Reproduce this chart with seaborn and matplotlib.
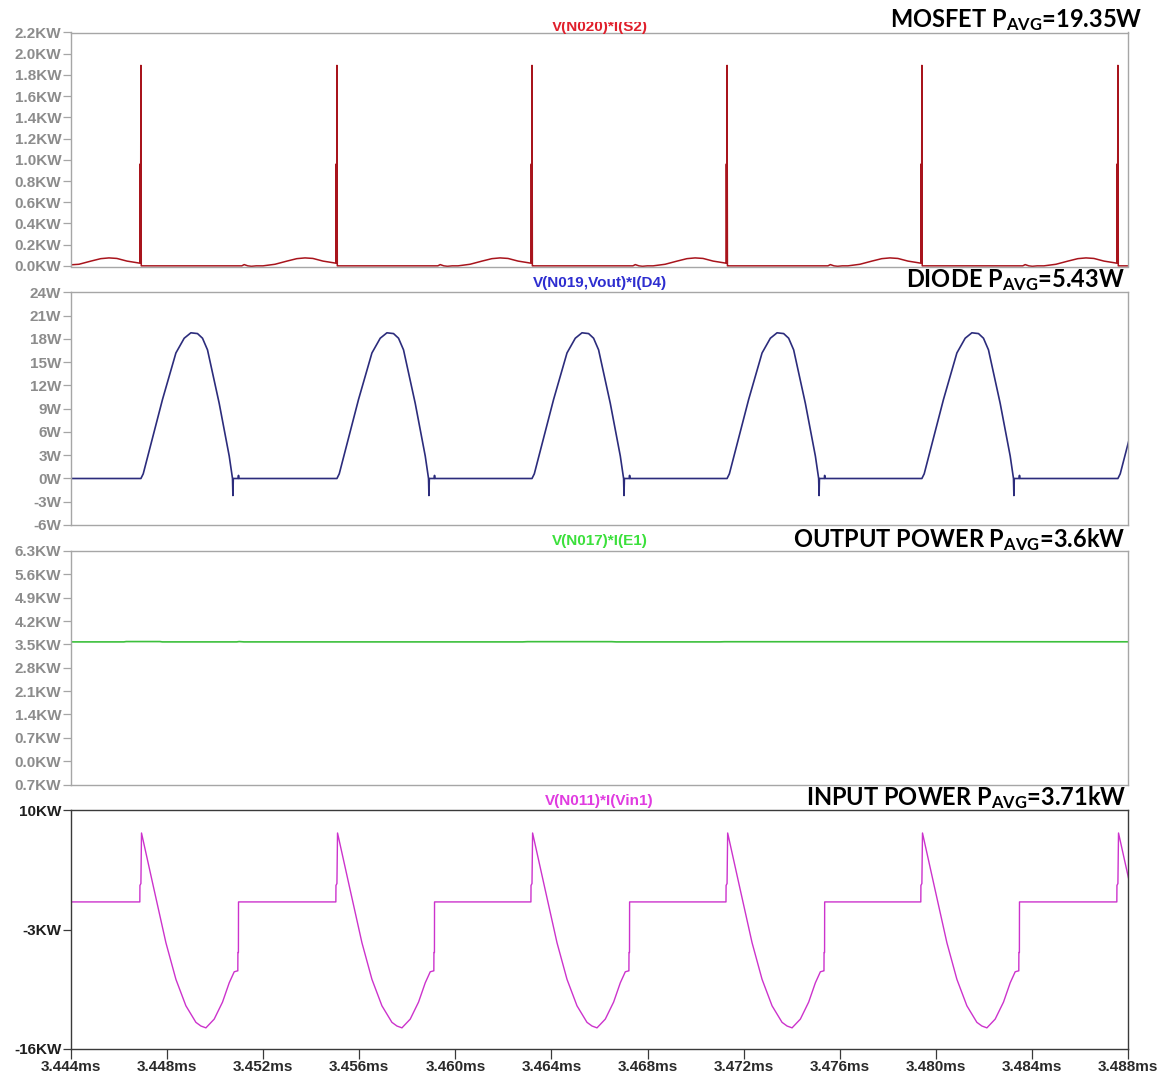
import numpy as np
import pandas as pd
import matplotlib
matplotlib.use("Agg")
import matplotlib.pyplot as plt
from matplotlib.ticker import FixedLocator, FixedFormatter
from matplotlib.patches import Rectangle
import seaborn as sns

# ---------------------------------------------------------------- data
T_START, T_END = 3.444, 3.488

# switching instants (ms) at which each cycle of the waveforms begins
CYCLE_STARTS_MS = [3.44691, 3.45507, 3.46319, 3.47131, 3.47942, 3.48758]

# MOSFET power V(N020)*I(S2): one cycle, offset in us -> KW
MOS_OFFSET_US = [-3.08, -2.58, -2.08, -1.67, -1.33, -1.00, -0.58, -0.17, -0.04,
                 -0.035, -0.025, -0.015, 0.0, 0.015, 0.05,
                 4.20, 4.30, 4.45, 4.60, 4.80]
MOS_KW = [0.0, 0.015, 0.045, 0.068, 0.075, 0.070, 0.045, 0.030, 0.025,
          0.96, 0.96, 0.03, 1.89, 0.0, 0.0,
          0.0, 0.012, 0.0, -0.004, 0.0]
MOS_LEAD_KW = 0.01

# diode power V(N019,Vout)*I(D4): one cycle, offset in us -> W
DIODE_OFFSET_US = [-0.05, 0.0, 0.096, 0.899, 1.457, 1.802, 2.081, 2.356, 2.564,
                   2.772, 3.259, 3.676, 3.813, 3.830, 3.846, 4.050, 4.063, 4.075]
DIODE_W = [0.0, 0.0, 0.6, 10.2, 16.2, 18.1, 18.8, 18.7, 18.1,
           16.6, 9.7, 2.9, 0.0, -2.2, 0.0, 0.0, 0.4, 0.0]
DIODE_LEAD_W = 0.0

# input power V(N011)*I(Vin1): one cycle, offset in us -> KW
IN_OFFSET_US = [-0.045, -0.040, 0.0, 0.025, 0.50, 1.041, 1.457, 1.873, 2.289,
                2.498, 2.706, 3.051, 3.397, 3.676, 3.884, 4.021, 4.034, 4.038,
                4.059, 4.063]
IN_KW = [0.0, 1.8, 2.0, 7.5, 1.9, -4.44, -8.42, -11.3, -13.1,
         -13.5, -13.7, -12.75, -10.9, -8.8, -7.6, -7.5, -7.5, -5.5,
         -5.5, 0.0]
IN_LEAD_KW = 0.0

# output power V(N017)*I(E1): breakpoints (ms -> KW)
OUT_T_MS = [3.4440, 3.4462, 3.4463, 3.4477, 3.4478, 3.4509, 3.4510, 3.4512,
            3.4628, 3.4630, 3.4665, 3.4667, 3.4710, 3.4712, 3.4800, 3.4880]
OUT_KW = [3.575, 3.575, 3.585, 3.585, 3.575, 3.575, 3.585, 3.575,
          3.575, 3.582, 3.582, 3.575, 3.575, 3.580, 3.580, 3.578]

# axis ticks
X_TICKS = [3.444, 3.448, 3.452, 3.456, 3.460, 3.464, 3.468, 3.472, 3.476,
           3.480, 3.484, 3.488]
X_LABELS = ["3.444ms", "3.448ms", "3.452ms", "3.456ms", "3.460ms", "3.464ms",
            "3.468ms", "3.472ms", "3.476ms", "3.480ms", "3.484ms", "3.488ms"]
MOS_TICKS = [0.0, 0.2, 0.4, 0.6, 0.8, 1.0, 1.2, 1.4, 1.6, 1.8, 2.0, 2.2]
MOS_LABELS = ["0.0KW", "0.2KW", "0.4KW", "0.6KW", "0.8KW", "1.0KW", "1.2KW",
              "1.4KW", "1.6KW", "1.8KW", "2.0KW", "2.2KW"]
DIODE_TICKS = [-6, -3, 0, 3, 6, 9, 12, 15, 18, 21, 24]
DIODE_LABELS = ["-6W", "-3W", "0W", "3W", "6W", "9W", "12W", "15W", "18W",
                "21W", "24W"]
OUT_TICKS = [-0.7, 0.0, 0.7, 1.4, 2.1, 2.8, 3.5, 4.2, 4.9, 5.6, 6.3]
OUT_LABELS = ["0.7KW", "0.0KW", "0.7KW", "1.4KW", "2.1KW", "2.8KW", "3.5KW",
              "4.2KW", "4.9KW", "5.6KW", "6.3KW"]
IN_TICKS = [-16, -3, 10]
IN_LABELS = ["-16KW", "-3KW", "10KW"]

TRACE_NAMES = ["V(N020)*I(S2)", "V(N019,Vout)*I(D4)", "V(N017)*I(E1)",
               "V(N011)*I(Vin1)"]
HEADINGS = [("MOSFET ", "19.35W"), ("DIODE ", "5.43W"),
            ("OUTPUT POWER ", "3.6kW"), ("INPUT POWER ", "3.71kW")]


def repeat_cycles(offsets_us, values, lead):
    """Lay one recorded cycle at every switching instant, after the
    level held at the start of the window."""
    t, v = [T_START], [lead]
    for s in CYCLE_STARTS_MS:
        for o, val in zip(offsets_us, values):
            tt = s + o / 1000.0
            if tt > t[-1]:
                t.append(tt)
                v.append(val)
    return pd.DataFrame({"t": t, "p": v})


mos_df = repeat_cycles(MOS_OFFSET_US, MOS_KW, MOS_LEAD_KW)
diode_df = repeat_cycles(DIODE_OFFSET_US, DIODE_W, DIODE_LEAD_W)
in_df = repeat_cycles(IN_OFFSET_US, IN_KW, IN_LEAD_KW)
out_df = pd.DataFrame({"t": OUT_T_MS, "p": OUT_KW})

# ---------------------------------------------------------------- style
sns.set_style("white")
plt.rcParams["font.family"] = ["Liberation Sans", "DejaVu Sans"]
plt.rcParams["font.weight"] = "bold"
plt.rcParams["mathtext.fontset"] = "custom"
plt.rcParams["mathtext.rm"] = "Lato:bold"
plt.rcParams["mathtext.it"] = "Lato:bold"
plt.rcParams["mathtext.bf"] = "Lato:bold"
plt.rcParams["mathtext.sf"] = "Lato:bold"

W, H = 1165, 1079
fig = plt.figure(figsize=(W / 100, H / 100), dpi=100, facecolor="white")

LEFT, RIGHT = 71, 1128
PANELS = [(32.5, 266.5), (292.5, 525), (551, 784.5), (810, 1049)]
TRACE_COLORS = ["#a8141c", "#2c2c7c", "#3cc03c", "#cc33cc"]
NAME_COLORS = ["#e0202c", "#2e2ed0", "#3ce03c", "#e03ce0"]
NAME_BASELINES = [30.5, 287.5, 545.5, 805]
HEAD_RIGHT = [1142, 1125, 1125, 1126]
HEAD_BASELINES = [27, 287.5, 547.5, 805]

series = [mos_df, diode_df, out_df, in_df]
ylims = [(-0.006, 2.2), (-6, 24), (-0.7, 6.3), (-16, 10)]
ticks = [MOS_TICKS, DIODE_TICKS, OUT_TICKS, IN_TICKS]
labels = [MOS_LABELS, DIODE_LABELS, OUT_LABELS, IN_LABELS]
widths = [1.1, 1.2, 1.2, 1.0]

for i, (top, bottom) in enumerate(PANELS):
    ax = fig.add_axes([LEFT / W, 1 - bottom / H, (RIGHT - LEFT) / W,
                       (bottom - top) / H])
    sns.lineplot(data=series[i], x="t", y="p", ax=ax, color=TRACE_COLORS[i],
                 linewidth=widths[i], estimator=None, sort=False)
    ax.set_xlim(T_START, T_END)
    ax.set_ylim(*ylims[i])
    ax.set_xlabel("")
    ax.set_ylabel("")
    last = i == 3
    frame = "#3a3a3a" if last else "#a6a6a6"
    lab = "#1e1e1e" if last else "#8c8c8c"
    for sp in ax.spines.values():
        sp.set_color(frame)
        sp.set_linewidth(1.0)
    ax.yaxis.set_major_locator(FixedLocator(ticks[i]))
    ax.yaxis.set_major_formatter(FixedFormatter(labels[i]))
    ax.tick_params(axis="y", left=True, length=6, width=0.9, color=frame,
                   labelsize=11, labelcolor=lab, pad=1)
    if last:
        ax.xaxis.set_major_locator(FixedLocator(X_TICKS))
        ax.xaxis.set_major_formatter(FixedFormatter(X_LABELS))
        ax.tick_params(axis="x", bottom=True, length=7, width=0.9,
                       color=frame, labelsize=11, labelcolor="#2a2a2a", pad=1)
    else:
        ax.set_xticks([])
    for lbl in ax.get_yticklabels() + ax.get_xticklabels():
        lbl.set_fontweight("bold")

    fig.text((LEFT + RIGHT) / 2 / W, 1 - NAME_BASELINES[i] / H,
             TRACE_NAMES[i], ha="center", va="baseline", fontsize=11,
             fontweight="bold", color=NAME_COLORS[i], zorder=2)

    head, avg = HEADINGS[i]
    fig.text(HEAD_RIGHT[i] / W, 1 - HEAD_BASELINES[i] / H,
             head + r"$\mathrm{P_{AVG}}$=" + avg, ha="right", va="baseline",
             fontsize=17, family=["Lato", "DejaVu Sans"], fontweight="bold",
             color="black", zorder=4)

# the top strip of the window hides the upper part of the first trace name
fig.add_artist(Rectangle((530 / W, 1 - 21.5 / H), 140 / W, 21.5 / H,
                         transform=fig.transFigure, facecolor="white",
                         edgecolor="none", zorder=3))

fig.savefig("out.png", dpi=100, facecolor="white")
